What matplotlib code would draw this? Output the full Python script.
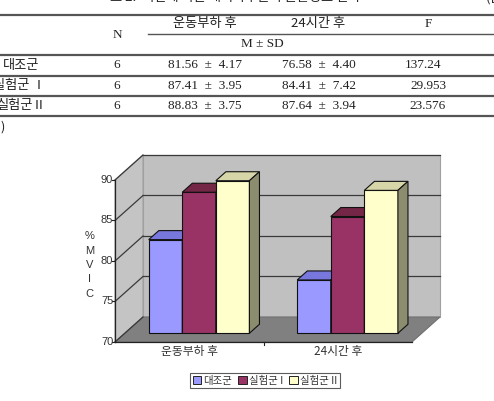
import matplotlib
matplotlib.use("Agg")
import matplotlib.pyplot as plt
from matplotlib.patches import Polygon, Rectangle
from matplotlib.lines import Line2D

plt.rcParams['font.family'] = ['Noto Sans CJK KR', 'DejaVu Sans']

# ---------------- data ----------------
categories = ['운동부하 후', '24시간 후']
groups = ['대조군', '실험군 I', '실험군 II']
table_groups = ['대조군', '실험군 Ⅰ', '실험군Ⅱ']
n_values = [6, 6, 6]
mean_after = [81.56, 87.41, 88.83]
sd_after = [4.17, 3.95, 3.75]
mean_24h = [76.58, 84.41, 87.64]
sd_24h = [4.40, 7.42, 3.94]
f_values = ['137.24', '29.953', '23.576']
yticks = [70, 75, 80, 85, 90]
ylabel_chars = ['%', 'M', 'V', 'I', 'C']

series = [[mean_after[i], mean_24h[i]] for i in range(3)]

W, H = 494, 401
fig = plt.figure(figsize=(W / 100, H / 100), dpi=100)
fig.patch.set_facecolor('white')

def fx(px):
    return px / W

def fy(py):
    return 1 - py / H

serif = ['Liberation Serif', 'Noto Sans CJK KR']
tsize = 9.5

# ---------------- table ----------------
fig.text(fx(235), fy(-2.5), '표 2.  시간에 따른 대퇴사두근의 근활성도 변화', ha='center', va='center',
         fontsize=9.5, color='#222222')
fig.text(fx(486), fy(-2.5), '(단', ha='left', va='center', fontsize=9.5, color='#222222')

line_col = '#555555'
for yy, x0 in [(15, 0), (55, 0), (75.5, 0), (96, 0), (115.5, 0)]:
    fig.add_artist(Line2D([fx(x0), 1], [fy(yy), fy(yy)], color=line_col, lw=1.6))
fig.add_artist(Line2D([fx(148), 1], [fy(33.5), fy(33.5)], color=line_col, lw=1.0))

hdr_col = '#222222'
fig.text(fx(117), fy(35), 'N', ha='center', va='center', fontsize=tsize, family=serif, color=hdr_col)
fig.text(fx(205), fy(24), categories[0], ha='center', va='center', fontsize=9.5, color=hdr_col)
fig.text(fx(318), fy(24), categories[1], ha='center', va='center', fontsize=9.5, color=hdr_col)
fig.text(fx(428), fy(24), 'F', ha='center', va='center', fontsize=tsize, family=serif, color=hdr_col)
fig.text(fx(262), fy(44), 'M ± SD', ha='center', va='center', fontsize=tsize, family=serif, color=hdr_col)

row_y = [65, 86, 106]
label_right = [39, 46, 46]
f_x = [423, 428, 428]
for i in range(3):
    fig.text(fx(label_right[i]), fy(row_y[i]), table_groups[i], ha='right', va='center', fontsize=9.5,
             color=hdr_col)
    fig.text(fx(117), fy(row_y[i]), str(n_values[i]), ha='center', va='center', fontsize=tsize,
             family=serif, color=hdr_col)
    fig.text(fx(205), fy(row_y[i]), f'{mean_after[i]:.2f}  ±  {sd_after[i]:.2f}', ha='center',
             va='center', fontsize=tsize, family=serif, color=hdr_col)
    fig.text(fx(319), fy(row_y[i]), f'{mean_24h[i]:.2f}  ±  {sd_24h[i]:.2f}', ha='center',
             va='center', fontsize=tsize, family=serif, color=hdr_col)
    fig.text(fx(f_x[i]), fy(row_y[i]), f_values[i], ha='center', va='center', fontsize=tsize,
             family=serif, color=hdr_col)

fig.text(fx(5), fy(127), ')', ha='right', va='center', fontsize=9, color=hdr_col)

# ---------------- 3D-style bar chart ----------------
ax = fig.add_axes([fx(115), fy(342), fx(412) - fx(115), fy(180) - fy(342)])
ax.set_xlim(0, 2)
ax.set_ylim(70, 90)
ax.axis('off')

DX = 28 / 148.5   # depth offset (x data units)
DY = 25 / 8.1     # depth offset (y data units)
y0, y1 = yticks[0], yticks[-1]

def poly(pts, fc, ec='none', lw=0.8, z=1):
    p = Polygon(pts, closed=True, facecolor=fc, edgecolor=ec, lw=lw, zorder=z, clip_on=False)
    ax.add_patch(p)

# back wall
poly([(DX, y0 + DY), (2 + DX, y0 + DY), (2 + DX, y1 + DY), (DX, y1 + DY)], '#c0c0c0', '#a0a0a0', 0.8, 1)
# left wall
poly([(0, y0), (DX, y0 + DY), (DX, y1 + DY), (0, y1)], '#c4c4c4', '#a0a0a0', 0.8, 1)
# floor
poly([(0, y0), (2, y0), (2 + DX, y0 + DY), (DX, y0 + DY)], '#808080', '#707070', 0.8, 2)

# gridlines
grid_col = '#3a3a3a'
for v in yticks[1:]:
    ax.plot([DX, 2 + DX], [v + DY, v + DY], color=grid_col, lw=0.9, zorder=2, clip_on=False)
for v in yticks:
    ax.plot([0, DX], [v, v + DY], color=grid_col, lw=0.9, zorder=2, clip_on=False)

# axes lines
ax.plot([0, 0], [y0, y1], color='#222222', lw=0.9, zorder=3, clip_on=False)
ax.plot([0, 2], [y0, y0], color='#222222', lw=0.9, zorder=3, clip_on=False)
for v in yticks:
    ax.plot([-0.02, 0], [v, v], color='#222222', lw=0.8, zorder=3, clip_on=False)
    ax.text(-0.012, v, str(v), ha='right', va='center', fontsize=8, color='#333333',
            family='Liberation Sans')
ax.plot([1, 1], [y0, y0 - 0.35], color='#222222', lw=0.8, zorder=3, clip_on=False)

for j, c in enumerate(categories):
    ax.text(j + 0.5, y0 - 1.15, c, ha='center', va='center', fontsize=8.5, color='#333333')

ax.text(-0.17, 79.5, '\n'.join(ylabel_chars), ha='center', va='center', fontsize=8,
        color='#333333', linespacing=1.55, family='Liberation Sans')

front_cols = ['#9999FF', '#993366', '#FFFFCC']
top_cols = ['#7777DD', '#732645', '#D6D6A8']
side_cols = ['#6B6BB3', '#6B2347', '#8C8C6E']

bw = 0.226
f1, f2 = 0.35, 0.71
for j in range(len(categories)):
    for i in range(3):
        v = series[i][j]
        xl = j + 0.5 + (i - 1.5) * bw + f1 * DX
        xr = xl + bw
        yb = y0 + f1 * DY
        yt = v + f1 * DY
        ddx = (f2 - f1) * DX
        ddy = (f2 - f1) * DY
        z = 5 + i
        poly([(xl, yb), (xr, yb), (xr, yt), (xl, yt)], front_cols[i], '#111111', 0.8, z)
        poly([(xl, yt), (xr, yt), (xr + ddx, yt + ddy), (xl + ddx, yt + ddy)], top_cols[i], '#111111', 0.8, z)
        poly([(xr, yb), (xr + ddx, yb + ddy), (xr + ddx, yt + ddy), (xr, yt)], side_cols[i], '#111111', 0.8, z)

# legend
handles = [Rectangle((0, 0), 1, 1, facecolor=front_cols[i], edgecolor='#222222', lw=0.7) for i in range(3)]
leg = fig.legend(handles, groups, loc='center', bbox_to_anchor=(fx(265), fy(380.5)), ncol=3,
                 fontsize=7.5, frameon=True, fancybox=False, edgecolor='#333333',
                 handlelength=0.8, handleheight=0.8, handletextpad=0.2, columnspacing=0.6,
                 borderpad=0.25, borderaxespad=0)
leg.get_frame().set_linewidth(0.8)
for t in leg.get_texts():
    t.set_color('#333333')

fig.savefig('out.png', dpi=100, facecolor='white')
